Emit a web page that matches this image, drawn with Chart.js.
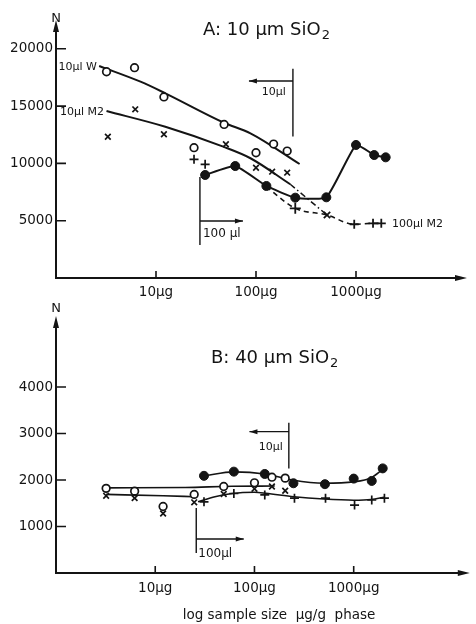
<!DOCTYPE html>
<html>
<head>
<meta charset="utf-8">
<script src="https://cdn.jsdelivr.net/npm/chart.js@4/dist/chart.umd.min.js"></script>
<style>
  html, body { margin: 0; padding: 0; background: #fff; }
  #wrap { position: relative; width: 476px; height: 624px; }
  #ca { position: absolute; left: 0; top: 0; }
  #cb { position: absolute; left: 0; top: 300px; }
</style>
</head>
<body>
<div id="wrap">
  <canvas id="ca" width="476" height="300"></canvas>
  <canvas id="cb" width="476" height="324"></canvas>
</div>
<script>
// ---- shared axis ticks ----
const X_TICKS = [10, 100, 1000];              // µg
const A_Y_TICKS = [5000, 10000, 15000, 20000];
const B_Y_TICKS = [1000, 2000, 3000, 4000];

// ---- Panel A: 10 µm SiO2 ----
// open circles: 10 µl W
const A_W_size = [3.2, 6.1, 12, 24, 48, 100, 150, 205];
const A_W_N    = [18000, 18350, 15800, 11370, 13400, 10930, 11690, 11080];
// crosses: 10 µl M2
const A_M2_size = [3.3, 6.2, 12, 50, 100, 145, 205];
const A_M2_N    = [12330, 14720, 12540, 11670, 9620, 9280, 9190];
// plus signs off the curve: 100 µl M2
const A_P_size = [24, 31];
const A_P_N    = [10360, 9920];
// filled circles: 100 µl W
const A_F_size = [31, 62, 127, 247, 505, 1000, 1520, 1980];
const A_F_N    = [8990, 9770, 8030, 7010, 7040, 11610, 10730, 10530];
// dashed 100 µl M2 branch
const A_D_size = [127, 247, 513, 960, 1480, 1790];
const A_D_N    = [7950, 6080, 5500, 4690, 4770, 4770];
// fitted curves
const A_fitW_size  = [2.7, 7, 12.4, 48, 88, 273];
const A_fitW_N     = [18500, 17130, 16120, 13550, 12630, 9950];
const A_fitM2_size = [3.2, 12.4, 47, 88, 220];
const A_fitM2_N    = [14570, 13200, 11460, 10450, 8180];
const A_link_size  = [220, 513];
const A_link_N     = [8180, 5500];

// ---- Panel B: 40 µm SiO2 ----
const B_W_size = [3.2, 6.2, 12, 24.7, 49, 100, 150, 204];
const B_W_N    = [1820, 1760, 1430, 1690, 1860, 1940, 2060, 2040];
const B_M2_size = [3.2, 6.2, 12, 24.7, 49, 100, 150, 204];
const B_M2_N    = [1660, 1610, 1280, 1520, 1700, 1810, 1860, 1770];
const B_P_size = [31, 62, 127, 253, 520, 1020, 1520, 2040];
const B_P_N    = [1530, 1710, 1680, 1610, 1610, 1460, 1570, 1610];
const B_F_size = [31, 62, 127, 247, 513, 1000, 1520, 1960];
const B_F_N    = [2090, 2180, 2130, 1930, 1910, 2030, 1980, 2250];
// fitted curves
const B_fitW_size  = [3.2, 20, 60, 160];
const B_fitW_N     = [1830, 1840, 1865, 1870];
const B_fitM2_size = [3.2, 12, 25];
const B_fitM2_N    = [1690, 1660, 1640];
const B_fitP_size  = [27, 40, 60, 100, 130, 250, 500, 1000, 1500, 2040];
const B_fitP_N     = [1530, 1640, 1710, 1735, 1715, 1640, 1590, 1565, 1580, 1630];
const B_fitF_size  = [31, 62, 127, 240, 500, 1000, 1500, 1960];
const B_fitF_N     = [2086, 2175, 2130, 2000, 1930, 1960, 2050, 2230];

const INK = '#141414';
const FONT = "'DejaVu Sans', 'Liberation Sans', sans-serif";

function pts(xs, ys) { return xs.map((v, i) => ({ x: v, y: ys[i] })); }

function markerSet(xs, ys, style, extra) {
  return Object.assign({
    data: pts(xs, ys), showLine: false, pointStyle: style,
    pointRadius: 3.8, pointBorderWidth: 1.7,
    borderColor: INK, backgroundColor: '#fff',
    pointBorderColor: INK, pointBackgroundColor: '#fff'
  }, extra || {});
}
function curveSet(xs, ys, extra) {
  return Object.assign({
    data: pts(xs, ys), borderColor: INK, borderWidth: 2,
    pointRadius: 0, fill: false, cubicInterpolationMode: 'monotone'
  }, extra || {});
}

function fillText(ctx, t, x, y, size, align) {
  ctx.font = size + 'px ' + FONT;
  ctx.textAlign = align || 'left';
  ctx.textBaseline = 'alphabetic';
  ctx.fillText(t, x, y);
}

// axes with arrow heads, inward ticks, titles, labels and range markers
const decor = {
  id: 'decor',
  afterDraw(chart, args, o) {
    const { ctx, chartArea: a } = chart;
    const xs = chart.scales.x, ys = chart.scales.y;
    ctx.save();
    ctx.strokeStyle = INK; ctx.fillStyle = INK; ctx.lineCap = 'butt';
    // axis lines
    ctx.lineWidth = 2;
    ctx.beginPath();
    ctx.moveTo(a.left, a.bottom + 1); ctx.lineTo(a.left, a.top + 6);
    ctx.moveTo(a.left - 1, a.bottom); ctx.lineTo(a.right - 6, a.bottom);
    ctx.stroke();
    // arrow heads
    ctx.beginPath();
    ctx.moveTo(a.left, a.top - 2); ctx.lineTo(a.left - 3, a.top + 10); ctx.lineTo(a.left + 3, a.top + 10); ctx.closePath();
    ctx.moveTo(a.right, a.bottom); ctx.lineTo(a.right - 12, a.bottom - 3); ctx.lineTo(a.right - 12, a.bottom + 3); ctx.closePath();
    ctx.fill();
    // inward ticks
    ctx.lineWidth = 1.6;
    ctx.beginPath();
    o.yTicks.forEach(v => { const p = ys.getPixelForValue(v); ctx.moveTo(a.left, p); ctx.lineTo(a.left + 10, p); });
    X_TICKS.forEach(v => { const p = xs.getPixelForValue(v); ctx.moveTo(p, a.bottom); ctx.lineTo(p, a.bottom - 7); });
    ctx.stroke();
    // N
    fillText(ctx, 'N', a.left, o.nY, 13, 'center');
    // panel title with subscript
    fillText(ctx, o.title.text, o.title.x, o.title.y, 18, 'left');
    const w = ctx.measureText(o.title.text).width;
    fillText(ctx, o.title.sub, o.title.x + w + 1, o.title.y + 4, 13, 'left');
    // free labels
    (o.labels || []).forEach(l => fillText(ctx, l.text, l.x, l.y, l.size || 11, l.align));
    // range markers: vertical bar with arrow
    ctx.lineWidth = 1.4;
    (o.marks || []).forEach(m => {
      const px = xs.getPixelForValue(m.at);
      const y1 = ys.getPixelForValue(m.from), y2 = ys.getPixelForValue(m.to);
      const ay = ys.getPixelForValue(m.arrowAt), ax = xs.getPixelForValue(m.arrowTo);
      ctx.beginPath();
      ctx.moveTo(px, y1); ctx.lineTo(px, y2);
      ctx.moveTo(px, ay); ctx.lineTo(ax, ay);
      ctx.stroke();
      const d = ax < px ? 1 : -1;
      ctx.beginPath();
      ctx.moveTo(ax, ay); ctx.lineTo(ax + d * 8, ay - 2.5); ctx.lineTo(ax + d * 8, ay + 2.5); ctx.closePath();
      ctx.fill();
      fillText(ctx, m.text, px + m.tx, ay + m.ty, m.size || 11, m.talign);
    });
    if (o.axisTitle) fillText(ctx, o.axisTitle.text, o.axisTitle.x, o.axisTitle.y, 13.5, 'center');
    ctx.restore();
  }
};

function scales(xMax, yMax, yTicks, xH, tickPad) {
  return {
    x: {
      type: 'logarithmic', min: 1, max: xMax,
      afterFit(s) { s.height = xH; },
      afterBuildTicks(s) { s.ticks = X_TICKS.map(v => ({ value: v })); },
      grid: { display: false, drawTicks: false }, border: { display: false },
      ticks: { callback: v => String(v) + 'μg', font: { family: FONT, size: 13.5 }, color: INK,
               padding: tickPad, maxRotation: 0, autoSkip: false }
    },
    y: {
      type: 'linear', min: 0, max: yMax,
      afterFit(s) { s.width = 56; },
      afterBuildTicks(s) { s.ticks = yTicks.map(v => ({ value: v })); },
      grid: { display: false, drawTicks: false }, border: { display: false },
      ticks: { callback: v => String(v), font: { family: FONT, size: 13.5 }, color: INK, padding: 3 }
    }
  };
}

const common = {
  responsive: false, animation: false, devicePixelRatio: 1,
  elements: { line: { tension: 0 } }
};

// Panel A
new Chart(document.getElementById('ca'), {
  type: 'line',
  data: { datasets: [
    markerSet(A_W_size, A_W_N, 'circle'),
    markerSet(A_M2_size, A_M2_N, 'crossRot', { pointRadius: 4 }),
    markerSet(A_P_size, A_P_N, 'cross', { pointRadius: 4.5 }),
    curveSet(A_F_size, A_F_N, { cubicInterpolationMode: 'default', tension: 0.15,
      pointRadius: 4.5, pointStyle: 'circle', pointBackgroundColor: INK, pointBorderColor: INK, pointBorderWidth: 1 }),
    curveSet(A_D_size, A_D_N, { borderWidth: 1.6, borderDash: [5, 4],
      pointStyle: ['circle', 'cross', 'crossRot', 'cross', 'cross', 'cross'],
      pointRadius: [0, 5.5, 4.5, 4.5, 4.5, 4.5], pointBorderWidth: 1.8, pointBorderColor: INK }),
    curveSet(A_fitW_size, A_fitW_N),
    curveSet(A_fitM2_size, A_fitM2_N),
    curveSet(A_link_size, A_link_N, { borderWidth: 1.5, borderDash: [6, 3, 1.5, 3] })
  ]},
  options: Object.assign({}, common, {
    layout: { padding: { left: 0, right: 9, top: 22, bottom: 0 } },
    scales: scales(Math.pow(10, 4.11), 22340, A_Y_TICKS, 22, 6),
    plugins: { legend: { display: false }, tooltip: { enabled: false },
      decor: {
        yTicks: A_Y_TICKS, nY: 22,
        title: { text: 'A: 10 μm SiO', sub: '2', x: 203, y: 35 },
        labels: [
          { text: '10μl W', x: 97, y: 70, align: 'right' },
          { text: '10μl M2', x: 104, y: 115, align: 'right' },
          { text: '100μl M2', x: 392, y: 227, align: 'left' }
        ],
        marks: [
          { at: 234, from: 12350, to: 18260, arrowAt: 17190, arrowTo: 85, text: '10μl', tx: -7, ty: 14, talign: 'right' },
          { at: 27.5, from: 2880, to: 8810, arrowAt: 4970, arrowTo: 74, text: '100 μl', tx: 3, ty: 16, talign: 'left', size: 12 }
        ]
      }
    }
  }),
  plugins: [decor]
});

// Panel B
new Chart(document.getElementById('cb'), {
  type: 'line',
  data: { datasets: [
    markerSet(B_W_size, B_W_N, 'circle'),
    markerSet(B_M2_size, B_M2_N, 'crossRot', { pointRadius: 4 }),
    markerSet(B_P_size, B_P_N, 'cross', { pointRadius: 4.5 }),
    markerSet(B_F_size, B_F_N, 'circle', { pointRadius: 4.5, pointBackgroundColor: INK, pointBorderWidth: 1 }),
    curveSet(B_fitW_size, B_fitW_N, { borderWidth: 1.6 }),
    curveSet(B_fitM2_size, B_fitM2_N, { borderWidth: 1.6 }),
    curveSet(B_fitP_size, B_fitP_N, { borderWidth: 1.6 }),
    curveSet(B_fitF_size, B_fitF_N, { borderWidth: 1.6 })
  ]},
  options: Object.assign({}, common, {
    layout: { padding: { left: 0, right: 3, top: 18, bottom: 0 } },
    scales: scales(Math.pow(10, 4.17), 5484, B_Y_TICKS, 51, 7),
    plugins: { legend: { display: false }, tooltip: { enabled: false },
      decor: {
        yTicks: B_Y_TICKS, nY: 12,
        title: { text: 'B: 40 μm SiO', sub: '2', x: 211, y: 63 },
        axisTitle: { text: 'log sample size  μg/g  phase', x: 279, y: 319 },
        marks: [
          { at: 222, from: 2250, to: 3230, arrowAt: 3040, arrowTo: 89, text: '10μl', tx: -6, ty: 18, talign: 'right' },
          { at: 25.9, from: 430, to: 1400, arrowAt: 730, arrowTo: 78, text: '100μl', tx: 2, ty: 18, talign: 'left', size: 12 }
        ]
      }
    }
  }),
  plugins: [decor]
});
</script>
</body>
</html>
